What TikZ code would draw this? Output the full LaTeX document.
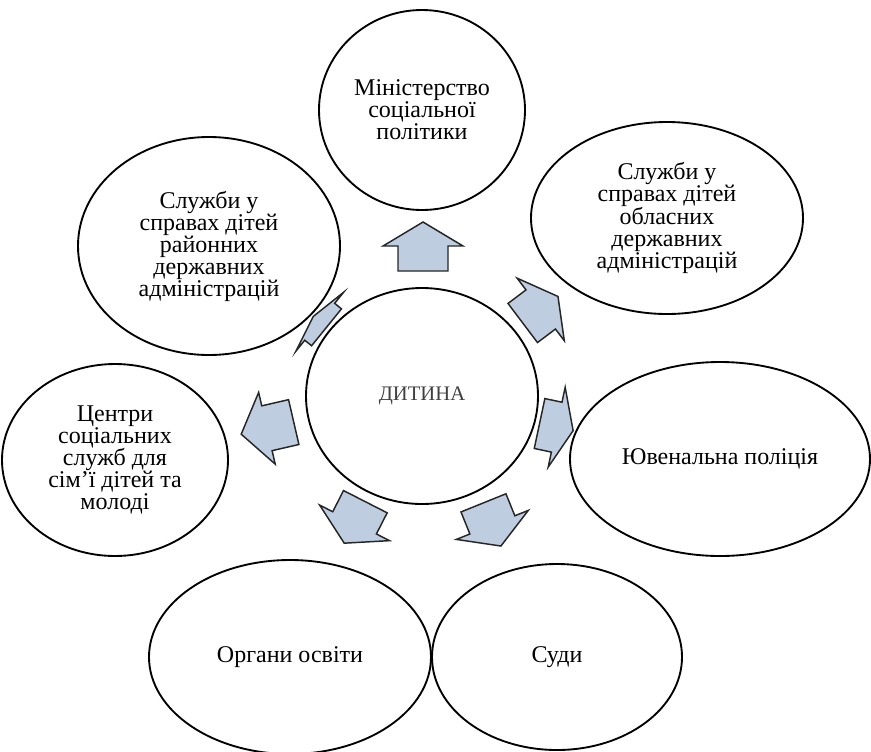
\documentclass[tikz,border=0pt]{standalone}
\usepackage{fontspec}
\setmainfont{Liberation Serif}
\usepackage{tikz}
\usetikzlibrary{shapes.geometric}
\definecolor{arrowblue}{HTML}{BFCDE1}
\tikzset{thick,
bubble/.style={ellipse, draw, line width=1.4pt, inner sep=0pt, align=center,
  font=\fontsize{18}{16.5}\selectfont},
blockarr/.style={draw=black!85, line width=1.1pt, fill=arrowblue}}

\begin{document}
\begin{tikzpicture}[x=0.75pt, y=0.75pt]
    \useasboundingbox (0,0) rectangle (871,-751);
    \clip (0,0) rectangle (871,-751);

    % Nodes
    \node[bubble, minimum width=154.5pt, minimum height=150pt] (min) at (422,-110)
        {Міністерство\\соціальної\\політики};
    \node[bubble, minimum width=196.5pt, minimum height=163.5pt] (rda) at (209,-246)
        {Служби у\\справах дітей\\районних\\державних\\адміністрацій};
    \node[bubble, minimum width=204pt, minimum height=144pt] (oda) at (667,-218)
        {Служби у\\справах дітей\\обласних\\державних\\адміністрацій};
    \node[bubble, minimum width=174pt, minimum height=162pt,
          font=\fontsize{15.5}{16}\selectfont, text=black!75] (child) at (422,-396) {ДИТИНА};
    \node[bubble, minimum width=169.5pt, minimum height=144pt] (cssd) at (115,-460)
        {Центри\\соціальних\\служб для\\сім’ї дітей та\\молоді};
    \node[bubble, minimum width=225pt, minimum height=145.5pt] (police) at (720,-459)
        {Ювенальна поліція};
    \node[bubble, minimum width=211.5pt, minimum height=145.5pt] (edu) at (290,-657)
        {Органи освіти};
    \node[bubble, minimum width=187.5pt, minimum height=139.5pt] (court) at (557,-657)
        {Суди};

    % Arrows
    \foreach \x/\y/\a/\l/\w in {423/247/90/1/1, 540/310/37/0.9/0.98, 556/427/-12/0.7/1.02,
                               492/524/-68/0.95/0.97, 355/522/243/0.95/0.98,
                               268/428/193/1.1/0.92, 320/322/141/0.35/0.95}
      \draw[blockarr, shift={(\x,-\y)}, rotate=\a, xscale=\l, yscale=\w]
        (-24,-25) -- (1,-25) -- (1,-40) -- (25,0) -- (1,40) -- (1,25) -- (-24,25) -- cycle;
\end{tikzpicture}
\end{document}
